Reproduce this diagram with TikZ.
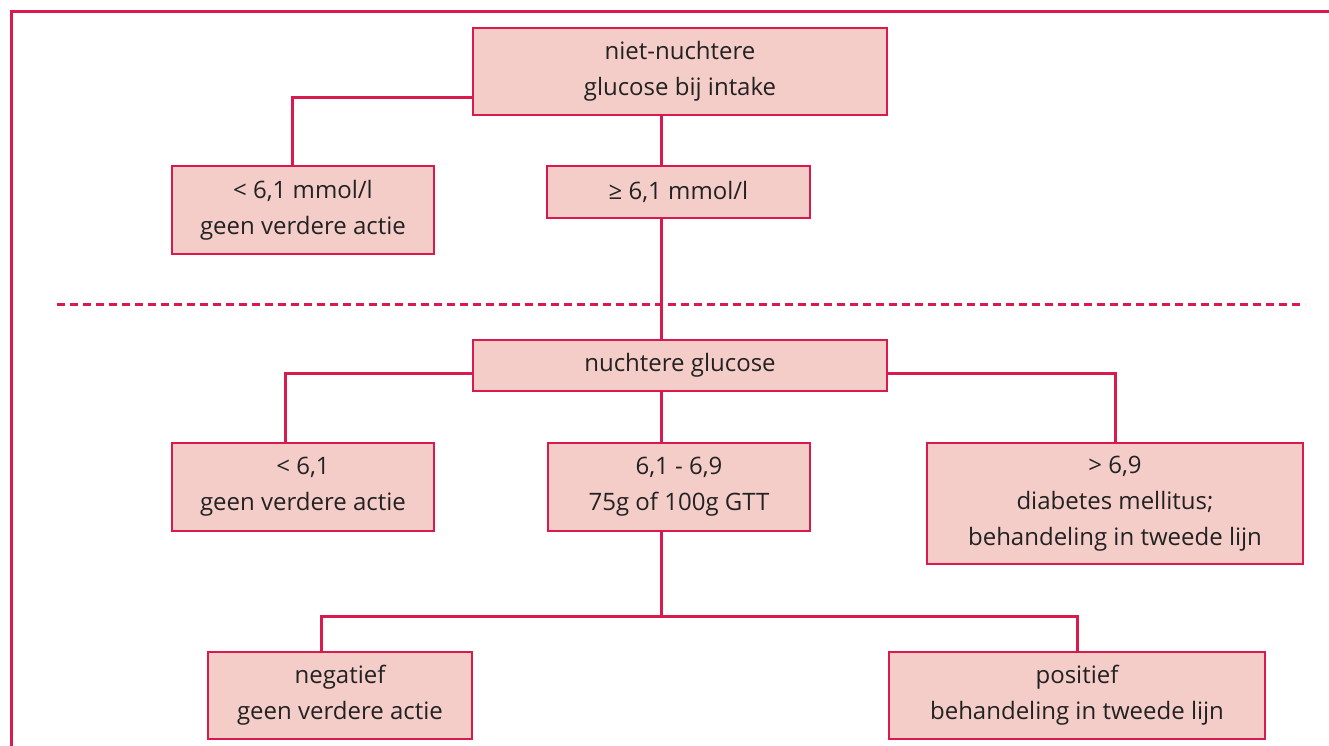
\documentclass[tikz,border=0pt]{standalone}
\usepackage{fontspec}
\setmainfont{Open Sans}
\usepackage{tikz}
\usetikzlibrary{calc,positioning}
\definecolor{rood}{HTML}{D81B4C}
\definecolor{roze}{HTML}{F4CDC9}
\definecolor{tekst}{HTML}{222222}
\tikzset{
  box/.style={draw=rood, line width=0.75pt, fill=roze, text=tekst, align=center,
    inner sep=0pt, font=\fontsize{12}{18}\selectfont},
  sz/.style 2 args={minimum width=#1*0.5pt, minimum height=#2*0.5pt},
  link/.style={draw=rood, line width=1.5pt},
}
\begin{document}
\begin{tikzpicture}[x=0.5pt,y=-0.5pt]
      \useasboundingbox (0,0) rectangle (1329,745);
      % Draw the frame
      \draw[rood, line width=1.5pt] (1340,11.5) -- (11.5,11.5) -- (11.5,760);
      % Draw the boxes
      \node[box, sz={414}{87}] (top) at (680,71.5) {niet-nuchtere\\glucose bij intake};
      \node[box, sz={262}{88}] (laag1) at (303,210) {< 6,1 mmol/l\\geen verdere actie};
      \node[box, sz={263}{52}] (hoog1) at (678.5,192) {≥ 6,1 mmol/l};
      \node[box, sz={414}{51}] (nuchter) at (680,365.5) {nuchtere glucose};
      \node[box, sz={262}{88}] (laag2) at (303,487) {< 6,1\\geen verdere actie};
      \node[box, sz={262}{88}] (midden) at (679,487) {6,1 - 6,9\\75g of 100g GTT};
      \node[box, sz={376}{121}] (hoog2) at (1115,503.5) {> 6,9\\diabetes mellitus;\\behandeling in tweede lijn};
      \node[box, sz={264}{87}] (neg) at (340,695.5) {negatief\\geen verdere actie};
      \node[box, sz={376}{87}] (pos) at (1077,695.5) {positief\\behandeling in tweede lijn};
      % Draw the links
      \coordinate (split) at (661,616);
      \draw[link] (top.west |- 0,97) -| (laag1.north -| 292,0);
      \draw[link] (top.south -| split) -- (hoog1.north -| split);
      \draw[link] (hoog1.south -| split) -- (nuchter.north -| split);
      \draw[link] (nuchter.west |- 0,373) -| (laag2.north -| 285,0);
      \draw[link] (nuchter.east |- 0,373) -| (hoog2.north);
      \draw[link] (nuchter.south -| split) -- (midden.north -| split);
      \draw[link] (midden.south -| split) -- (split);
      \draw[link] (neg.north -| 321,0) |- (split) -| (pos.north);
      % dashed separator
      \draw[link, dash pattern=on 4pt off 2.5pt] (57,304) -- (1305,304);
\end{tikzpicture}
\end{document}
